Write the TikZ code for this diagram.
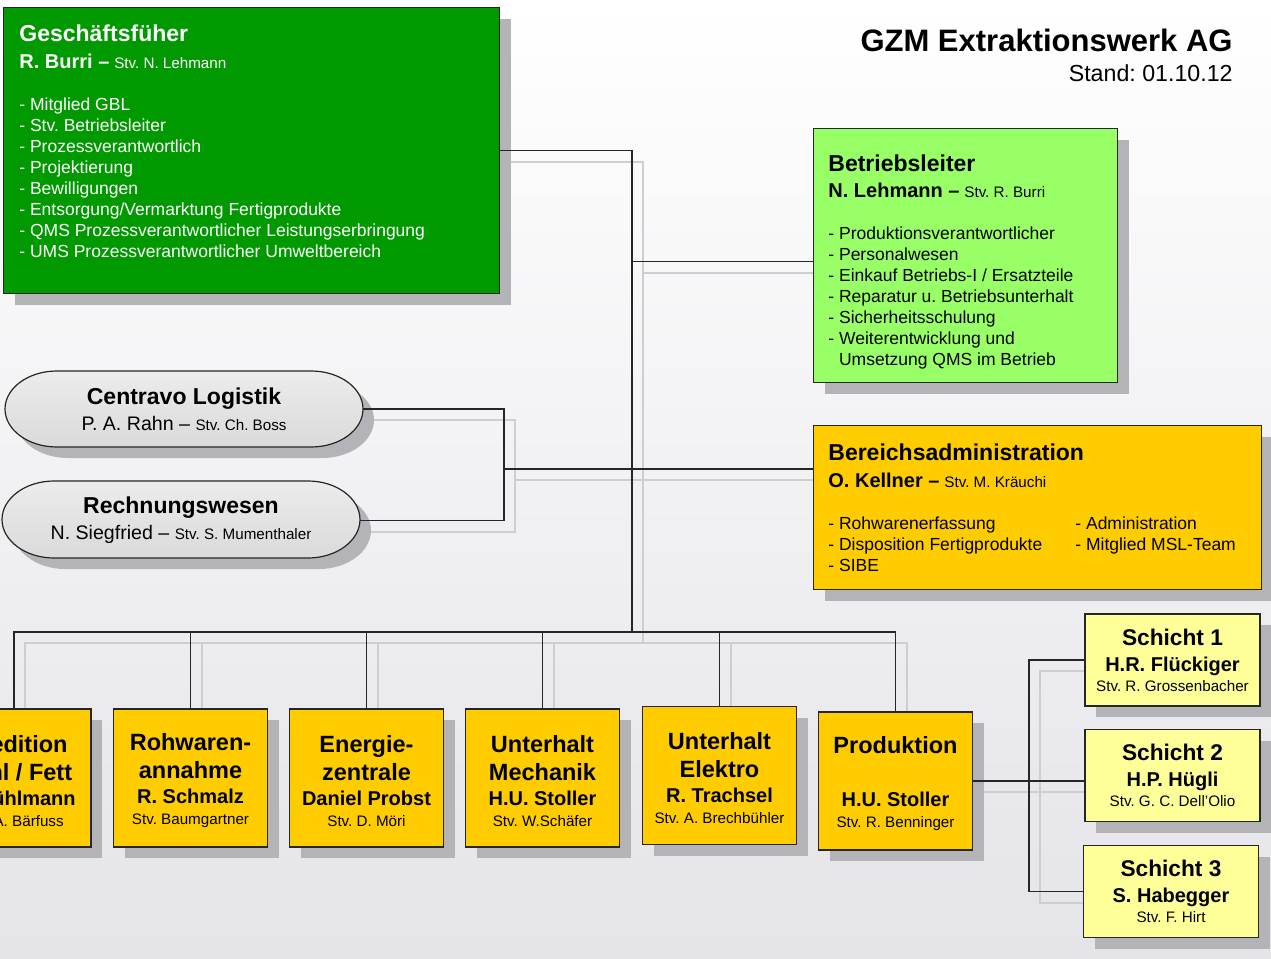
\documentclass[tikz,border=0pt]{standalone}
\usepackage{fontspec}
\setmainfont{Liberation Sans}
\usetikzlibrary{shadows,backgrounds}
\frenchspacing
\definecolor{gfgreen}{RGB}{0,153,0}
\definecolor{blgreen}{RGB}{153,255,102}
\definecolor{gold}{RGB}{255,204,0}
\definecolor{paleyellow}{RGB}{255,255,153}
\definecolor{shadegray}{RGB}{180,180,184}
\definecolor{wiregray}{RGB}{206,206,210}
\definecolor{pilltop}{RGB}{236,236,236}
\definecolor{pillbottom}{RGB}{218,218,218}
\definecolor{bgbottom}{RGB}{228,228,233}
\newcommand\orghead{\fontsize{11.5}{13}\selectfont\bfseries}
\newcommand\orgname{\fontsize{10}{12}\selectfont\bfseries}
\newcommand\orgstv{\fontsize{7.6}{9}\selectfont\mdseries}
\newcommand\orgstrut{\rule{0pt}{11.5pt}}
\newcommand\orgwires[1]{%
  \draw[#1] (gf.east) -| (trunk);
  \draw[#1] (blin) -- (blin -| trunk);
  \draw[#1] (cl.east) -| (adminjoin) |- (rw.east);
  \draw[#1] (adminjoin) -- (adminjoin -| ba.west);
  \foreach \u in {sped,rohw,energ,mech,elek,prod}
    \draw[#1] (trunk) -| (\u.north);
  \draw[#1] (prod.east) -- (shiftjoin -| s2.west);
  \draw[#1] (s1.west) -| (shiftjoin) |- (s3.west);
}
\tikzset{%
  orgbox/.style={rectangle,draw=black!85,line width=0.6pt,inner sep=0pt,
    drop shadow={shadow xshift=5.5pt,shadow yshift=-5.5pt,fill=shadegray,opacity=1}},
  unitbox/.style={orgbox,fill=gold,minimum width=77pt,minimum height=69pt,
    align=center,font=\fontsize{11.75}{14}\selectfont\bfseries},
  shiftbox/.style={orgbox,fill=paleyellow,minimum width=87.5pt,minimum height=46pt,
    align=center,font=\fontsize{11.35}{13}\selectfont\bfseries},
  boxtext/.style={anchor=north west,inner sep=0pt,align=left,
    font=\fontsize{8.75}{10.5}\selectfont},
  pilltext/.style={inner sep=0pt,minimum width=179pt,minimum height=38pt,
    align=center,font=\fontsize{9.8}{13}\selectfont},
  wire/.style={draw=black!85,line width=0.65pt},
  wireshade/.style={draw=wiregray,line width=1pt}
}
\begin{document}
\begin{tikzpicture}[x=0.5pt,y=-0.5pt]
    \useasboundingbox (0,0) rectangle (1271,959);
    \begin{scope}[on background layer]
      \shade[top color=white,bottom color=bgbottom] (0,0) rectangle (1271,959);
    \end{scope}
    \clip (0,0) rectangle (1271,959);

    \node[anchor=base east,inner sep=0pt,font=\fontsize{15.5}{18}\selectfont\bfseries] (firm) at (1233,51) {GZM Extraktionswerk AG};
    \node[anchor=base east,inner sep=0pt,font=\fontsize{11.6}{14}\selectfont] (stand) at (1233,81) {Stand: 01.10.12};

    \node[orgbox,fill=gfgreen,minimum width=248pt,minimum height=143pt,anchor=north west] (gf) at (3,7) {};
    \node[boxtext,text=white] (gftext) at (19,24) {{\orghead Geschäftsfüher}\\[3pt]
      {\orgname R. Burri –} {\orgstv Stv. N. Lehmann}\\[10.5pt]
      - Mitglied GBL\\
      - Stv. Betriebsleiter\\
      - Prozessverantwortlich\\
      - Projektierung\\
      - Bewilligungen\\
      - Entsorgung/Vermarktung Fertigprodukte\\
      - QMS Prozessverantwortlicher Leistungserbringung\\
      - UMS Prozessverantwortlicher Umweltbereich};

    \node[orgbox,fill=blgreen,minimum width=152pt,minimum height=127pt,anchor=north west] (bl) at (813,128) {};
    \node[boxtext] (bltext) at (828,154) {{\orghead Betriebsleiter}\\[2.5pt]
      {\orgname N. Lehmann –} {\orgstv Stv. R. Burri}\\[10.5pt]
      - Produktionsverantwortlicher\\
      - Personalwesen\\
      - Einkauf Betriebs-I / Ersatzteile\\
      - Reparatur u. Betriebsunterhalt\\
      - Sicherheitsschulung\\
      - Weiterentwicklung und\\
      \phantom{- }Umsetzung QMS im Betrieb};

    \node[orgbox,fill=gold,minimum width=224pt,minimum height=82pt,anchor=north west] (ba) at (813,425) {};
    \node[boxtext] (batext) at (828,443) {{\orghead Bereichsadministration}\\[3pt]
      {\orgname O. Kellner –} {\orgstv Stv. M. Kräuchi}\\[10.5pt]
      \makebox[123.5pt][l]{- Rohwarenerfassung}- Administration\\
      \makebox[123.5pt][l]{- Disposition Fertigprodukte}- Mitglied MSL-Team\\
      - SIBE};

    \foreach \xa/\ya/\xb/\yb/\ym in {5/371/363/447/409, 2/481/360/558/519.5}{
      \fill[shadegray,xshift=5.5pt,yshift=-5.5pt] (\xa+52,\ya) -- (\xb-52,\ya)
        .. controls (\xb-23.3,\ya) and (\xb,\ym-21) .. (\xb,\ym)
        .. controls (\xb,\ym+21) and (\xb-23.3,\yb) .. (\xb-52,\yb) -- (\xa+52,\yb)
        .. controls (\xa+23.3,\yb) and (\xa,\ym+21) .. (\xa,\ym)
        .. controls (\xa,\ym-21) and (\xa+23.3,\ya) .. (\xa+52,\ya) -- cycle;
      \path[top color=pilltop,bottom color=pillbottom,draw=black!85,line width=0.6pt]
        (\xa+52,\ya) -- (\xb-52,\ya)
        .. controls (\xb-23.3,\ya) and (\xb,\ym-21) .. (\xb,\ym)
        .. controls (\xb,\ym+21) and (\xb-23.3,\yb) .. (\xb-52,\yb) -- (\xa+52,\yb)
        .. controls (\xa+23.3,\yb) and (\xa,\ym+21) .. (\xa,\ym)
        .. controls (\xa,\ym-21) and (\xa+23.3,\ya) .. (\xa+52,\ya) -- cycle;
    }
    \node[pilltext] (cl) at (184,409) {{\orghead Centravo Logistik}\\P. A. Rahn – {\orgstv Stv. Ch. Boss}};
    \node[pilltext] (rw) at (181,520.5) {{\orghead Rechnungswesen}\\N. Siegfried – {\orgstv Stv. S. Mumenthaler}};

    \node[unitbox] (sped) at (14,778) {\orgstrut Spedition\\Mehl / Fett\\[-1.5pt]{\orgname R. Kühlmann}\\[-3.5pt]{\orgstv Stv. A. Bärfuss}};
    \node[unitbox] (rohw) at (190.5,778) {\orgstrut Rohwaren-\\annahme\\[-1.5pt]{\orgname R. Schmalz}\\[-3.5pt]{\orgstv Stv. Baumgartner}};
    \node[unitbox] (energ) at (366.5,778) {\orgstrut Energie-\\zentrale\\[-1.5pt]{\orgname Daniel Probst}\\[-3.5pt]{\orgstv Stv. D. Möri}};
    \node[unitbox] (mech) at (542.5,778) {\orgstrut Unterhalt\\Mechanik\\[-1.5pt]{\orgname H.U. Stoller}\\[-3.5pt]{\orgstv Stv. W.Schäfer}};
    \node[unitbox] (elek) at (719.5,775.5) {\orgstrut Unterhalt\\Elektro\\[-1.5pt]{\orgname R. Trachsel}\\[-3.5pt]{\orgstv Stv. A. Brechbühler}};
    \node[unitbox] (prod) at (895.5,781) {\orgstrut Produktion\\ \\[-1.5pt]{\orgname H.U. Stoller}\\[-3.5pt]{\orgstv Stv. R. Benninger}};

    \node[shiftbox] (s1) at (1172.5,660) {Schicht 1\\{\orgname H.R. Flückiger}\\[-3pt]{\orgstv Stv. R. Grossenbacher}};
    \node[shiftbox] (s2) at (1172.5,775.5) {Schicht 2\\{\orgname H.P. Hügli}\\[-3pt]{\orgstv Stv. G. C. Dell'Olio}};
    \node[shiftbox] (s3) at (1171,891.5) {Schicht 3\\{\orgname S. Habegger}\\[-3pt]{\orgstv Stv. F. Hirt}};

    \coordinate (trunk) at (632,632);
    \coordinate (adminjoin) at (504,469);
    \coordinate (shiftjoin) at (1029,781);
    \coordinate (blin) at ([yshift=-3pt]bl.west);

    \begin{scope}[on background layer]
      \begin{scope}[transform canvas={xshift=5.5pt,yshift=-5.5pt}]
        \orgwires{wireshade}
      \end{scope}
    \end{scope}
    \orgwires{wire}
\end{tikzpicture}
\end{document}
